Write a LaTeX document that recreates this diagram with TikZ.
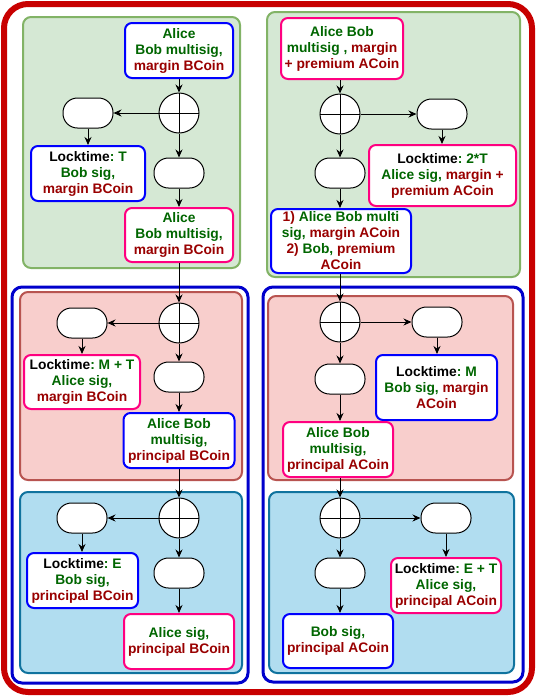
\documentclass[tikz,border=0pt]{standalone}
\usepackage{fontspec}
\setmainfont{Liberation Sans}
\usetikzlibrary{arrows.meta}
\frenchspacing

\definecolor{okgreen}{HTML}{006600}
\definecolor{coinred}{HTML}{990000}
\definecolor{outerred}{HTML}{C80000}
\definecolor{outerblue}{HTML}{0000CC}
\definecolor{boxblue}{HTML}{0000FF}
\definecolor{boxpink}{HTML}{FF0080}
\definecolor{gfill}{HTML}{D5E8D4}
\definecolor{gline}{HTML}{82B366}
\definecolor{rfill}{HTML}{F8CECC}
\definecolor{rline}{HTML}{B85450}
\definecolor{bfill}{HTML}{B1DDF0}
\definecolor{bline}{HTML}{10739E}

\newcommand\gr[1]{\textcolor{okgreen}{#1}}
\newcommand\rd[1]{\textcolor{coinred}{#1}}

\tikzset{
  panel/.style={rounded corners=8pt, line width=2pt},
  greenpanel/.style={panel, fill=gfill, draw=gline},
  redpanel/.style={panel, fill=rfill, draw=rline},
  bluepanel/.style={panel, fill=bfill, draw=bline},
  stagebox/.style={draw=outerblue, fill=white, line width=3pt, rounded corners=10pt},
  txbox/.style={draw, fill=white, line width=2pt, rounded corners=7pt, align=center,
    font=\bfseries\fontsize{13.8}{16}\selectfont\frenchspacing, inner sep=1pt},
  bluebox/.style={txbox, draw=boxblue},
  pinkbox/.style={txbox, draw=boxpink},
  term/.style={draw, fill=white, line width=1pt, rounded corners=14.5pt,
    minimum width=50pt, minimum height=30pt, inner sep=0pt},
  xorc/.style={circle, draw, fill=white, line width=1pt, minimum size=40pt, inner sep=0pt,
    path picture={\draw[line width=1pt]
      (path picture bounding box.north) -- (path picture bounding box.south)
      (path picture bounding box.west) -- (path picture bounding box.east);}},
  flow/.style={-{Stealth[length=8pt,width=7pt]}, line width=1pt},
}

\begin{document}
\begin{tikzpicture}[x=1pt, y=-1pt]
\useasboundingbox (0,0) rectangle (537,697);

% outer frame and stage frames
\draw[draw=outerred, line width=6pt, rounded corners=24pt] (4,4) rectangle (532,692);
\draw[stagebox] (12,287) rectangle (248,683);
\draw[stagebox] (263,287) rectangle (523,682);

% phase panels
\draw[greenpanel] (23,17) rectangle (240,268);
\draw[greenpanel] (267,12) rectangle (520,277);
\draw[redpanel] (20,292) rectangle (242,480);
\draw[redpanel] (268,296) rectangle (513,480);
\draw[bluepanel] (20,492) rectangle (242,673);
\draw[bluepanel] (269,492) rectangle (514,673);

% ---- left column: BCoin ----
\node[bluebox, minimum width=108pt, minimum height=55pt] (tlA) at (179,50.5)
  {\gr{Alice}\\\gr{Bob multisig,}\\\rd{margin BCoin}};
\node[xorc] (tlX) at (179,113) {};
\node[term] (tlL) at (88,113) {};
\node[bluebox, minimum width=114pt, minimum height=55pt] (tlK) at (88,173.5)
  {Locktime\gr{: T}\\\gr{Bob sig,}\\\rd{margin BCoin}};
\node[term] (tlB) at (179,173) {};
\node[pinkbox, minimum width=108pt, minimum height=54pt] (tlC) at (179,235)
  {\gr{Alice}\\\gr{Bob multisig,}\\\rd{margin BCoin}};

\node[xorc] (mlX) at (179,323) {};
\node[term] (mlL) at (82,323) {};
\node[pinkbox, minimum width=116pt, minimum height=54pt] (mlK) at (82,382)
  {Locktime\gr{: M + T}\\\gr{Alice sig,}\\\rd{margin BCoin}};
\node[term] (mlB) at (179,377) {};
\node[bluebox, minimum width=111pt, minimum height=55pt] (mlC) at (179,440.5)
  {\gr{Alice Bob}\\\gr{multisig,}\\\rd{principal BCoin}};

\node[xorc] (blX) at (179,518) {};
\node[term] (blL) at (82,518) {};
\node[bluebox, minimum width=111pt, minimum height=55pt] (blK) at (82.5,580.5)
  {Locktime\gr{: E}\\\gr{Bob sig,}\\\rd{principal BCoin}};
\node[term] (blB) at (179,573) {};
\node[pinkbox, minimum width=110pt, minimum height=55pt] (blC) at (179,641.5)
  {\gr{Alice sig,}\\\rd{principal BCoin}};

% ---- right column: ACoin ----
\node[pinkbox, minimum width=122pt, minimum height=61pt] (trA) at (342,48.5)
  {\gr{Alice Bob}\\\gr{multisig ,} \rd{margin}\\\rd{+ premium ACoin}};
\node[xorc] (trX) at (340,114) {};
\node[term] (trR) at (442,114) {};
\node[pinkbox, minimum width=147pt, minimum height=61pt] (trK) at (442.5,175.5)
  {Locktime\gr{: 2*T}\\\gr{Alice sig,} \rd{margin +}\\\rd{premium ACoin}};
\node[term] (trB) at (340,173) {};
\node[bluebox, minimum width=140pt, minimum height=64pt] (trC) at (341,241)
  {\rd{1)} \gr{Alice Bob multi}\\\gr{sig,} \rd{margin ACoin}\\\rd{2)} \gr{Bob,} \rd{premium}\\\rd{ACoin}};

\node[xorc] (mrX) at (340,322) {};
\node[term] (mrR) at (437,322) {};
\node[bluebox, minimum width=121pt, minimum height=65pt] (mrK) at (436.5,387.5)
  {Locktime\gr{: M}\\\gr{Bob sig,} \rd{margin}\\\rd{ACoin}};
\node[term] (mrB) at (340,379) {};
\node[pinkbox, minimum width=110pt, minimum height=55pt] (mrC) at (338,449.5)
  {\gr{Alice Bob}\\\gr{multisig,}\\\rd{principal ACoin}};

\node[xorc] (brX) at (340,518) {};
\node[term] (brR) at (446,518) {};
\node[pinkbox, minimum width=110pt, minimum height=55pt] (brK) at (446,585.5)
  {Locktime\gr{: E + T}\\\gr{Alice sig,}\\\rd{principal ACoin}};
\node[term] (brB) at (340,573) {};
\node[bluebox, minimum width=110pt, minimum height=54pt] (brC) at (338,641)
  {\gr{Bob sig,}\\\rd{principal ACoin}};

% ---- connectors ----
\draw[flow] (tlA.south) -- (tlX.north);
\draw[flow] (tlX.west) -- (tlL.east);
\draw[flow] (tlX.south) -- (tlB.north);
\draw[flow] (tlL.south) -- (tlK.north -| tlL.south);
\draw[flow] (tlB.south) -- (tlC.north);
\draw[flow] (tlC.south) -- (mlX.north);
\draw[flow] (mlX.west) -- (mlL.east);
\draw[flow] (mlX.south) -- (mlB.north);
\draw[flow] (mlL.south) -- (mlK.north -| mlL.south);
\draw[flow] (mlB.south) -- (mlC.north);
\draw[flow] (mlC.south) -- (blX.north);
\draw[flow] (blX.west) -- (blL.east);
\draw[flow] (blX.south) -- (blB.north);
\draw[flow] (blL.south) -- (blK.north -| blL.south);
\draw[flow] (blB.south) -- (blC.north -| blB.south);

\draw[flow] (trA.south -| trX.north) -- (trX.north);
\draw[flow] (trX.east) -- (trR.west);
\draw[flow] (trX.south) -- (trB.north);
\draw[flow] (trR.south) -- (trK.north -| trR.south);
\draw[flow] (trB.south) -- (trC.north -| trB.south);
\draw[flow] (trC.south -| mrX.north) -- (mrX.north);
\draw[flow] (mrX.east) -- (mrR.west);
\draw[flow] (mrX.south) -- (mrB.north);
\draw[flow] (mrR.south) -- (mrK.north -| mrR.south);
\draw[flow] (mrB.south) -- (mrC.north -| mrB.south);
\draw[flow] (mrC.south -| brX.north) -- (brX.north);
\draw[flow] (brX.east) -- (brR.west);
\draw[flow] (brX.south) -- (brB.north);
\draw[flow] (brR.south) -- (brK.north -| brR.south);
\draw[flow] (brB.south) -- (brC.north -| brB.south);
\end{tikzpicture}
\end{document}
